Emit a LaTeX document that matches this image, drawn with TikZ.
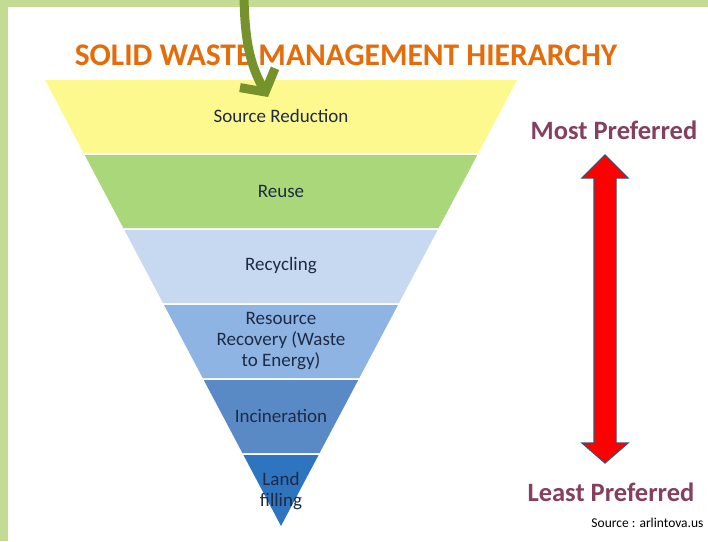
\documentclass[tikz,border=0pt]{standalone}
\usepackage{fontspec}
\setmainfont{Carlito}
\usepackage{tikz}
\usetikzlibrary{arrows.meta,calc}

\definecolor{frame}{HTML}{C3DB93}
\definecolor{titleorange}{HTML}{E46C0A}
\definecolor{leafgreen}{HTML}{76922C}
\definecolor{prefcol}{HTML}{86405F}
\definecolor{arrowedge}{HTML}{3F4F6B}
\definecolor{lvla}{HTML}{FDF98F}
\definecolor{lvlb}{HTML}{A9D77A}
\definecolor{lvlc}{HTML}{C6D9F0}
\definecolor{lvld}{HTML}{8EB4E3}
\definecolor{lvle}{HTML}{5A8AC6}
\definecolor{lvlf}{HTML}{2F74BE}
\definecolor{lvltext}{HTML}{1F2A44}

\tikzset{
  layertext/.style={font=\fontsize{19}{21}\selectfont, align=center, text=lvltext},
  preftext/.style={font=\bfseries\fontsize{26.5}{28}\selectfont, text=prefcol}
}

\begin{document}
\begin{tikzpicture}[x=1pt,y=-1pt]
        \useasboundingbox (0,0) rectangle (708,541);
        % Frame
        \fill[white] (0,0) rectangle (708,541);
        \fill[frame] (0,0) rectangle (708,7);
        \fill[frame] (0,0) rectangle (8,541);
        % Title
        \node[font=\bfseries\fontsize{31.5}{34}\selectfont, text=titleorange] (title) at (346,55) {SOLID WASTE MANAGEMENT HIERARCHY};
        % Layers of the inverted pyramid (apex at 281,526)
        \foreach \i/\col/\txt in {1/lvla/Source Reduction, 2/lvlb/Reuse, 3/lvlc/Recycling,
                4/lvld/{Resource\\Recovery (Waste\\to Energy)}, 5/lvle/Incineration, 6/lvlf/{Land\\filling}} {
            \pgfmathsetmacro{\ytop}{80+75*(\i-1)}
            \pgfmathsetmacro{\ybot}{min(\ytop+73,526)}
            \pgfmathsetmacro{\wtop}{0.5291*(526-\ytop)}
            \pgfmathsetmacro{\wbot}{0.5291*(526-\ybot)}
            \fill[\col] (281-\wtop,\ytop) -- (281+\wtop,\ytop) -- (281+\wbot,\ybot) -- (281-\wbot,\ybot) -- cycle;
            \node[layertext] (layer\i) at (281,\ytop+36) {\txt};
        }
        % Green arrow
        \coordinate (gstart) at (244,-10);
        \coordinate (gend) at (268,97);
        \draw[leafgreen, line width=9pt, -{Straight Barb[length=16pt,width=40pt]}]
            (gstart) .. controls (244,45) and (252,68) .. (gend);
        % Preference scale
        \node[preftext] (most) at (614,130) {Most Preferred};
        \node[preftext] (least) at (611,492) {Least Preferred};
        \coordinate (ptop) at (605,155);
        \coordinate (pbot) at (605,463);
        \fill[red, draw=arrowedge, line width=1.2pt]
            (ptop) -- ($(ptop)+(23,23)$) -- ($(ptop)+(11,23)$) -- ($(pbot)+(11,-20)$) -- ($(pbot)+(23,-20)$)
            -- (pbot) -- ($(pbot)+(-23,-20)$) -- ($(pbot)+(-11,-20)$) -- ($(ptop)+(-11,23)$) -- ($(ptop)+(-23,23)$) -- cycle;
        % Source
        \node[anchor=east, font=\fontsize{13.5}{15}\selectfont] (source) at (707,523) {Source : arlintova.us};
    \end{tikzpicture}
\end{document}
